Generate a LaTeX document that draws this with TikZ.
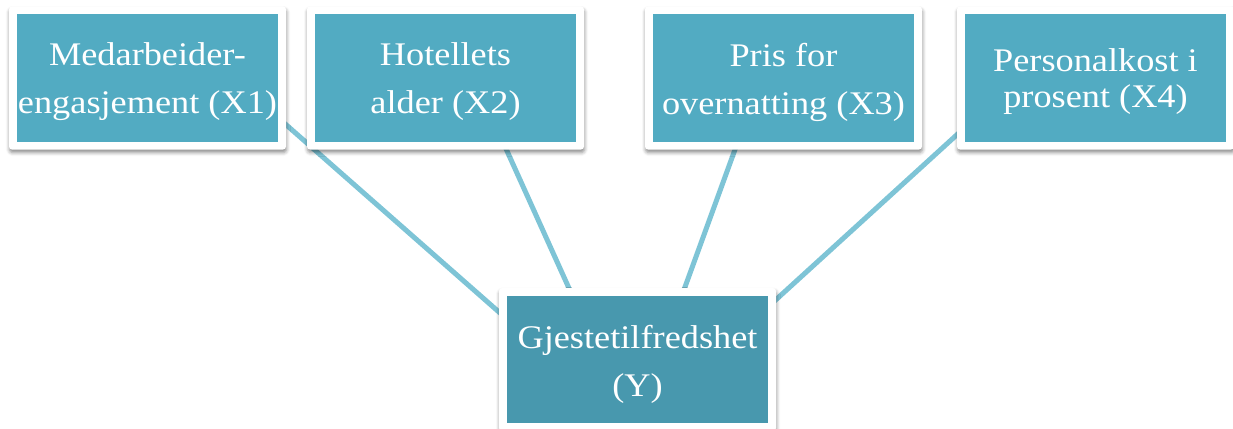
\documentclass[tikz,border=0pt]{standalone}
\usepackage{fontspec}
\setmainfont{Liberation Serif}[FakeStretch=1.1]
\usetikzlibrary{shadows.blur,backgrounds}
\definecolor{boxteal}{RGB}{82,171,194}
\definecolor{hubteal}{RGB}{72,152,174}
\definecolor{linkblue}{RGB}{126,196,214}
\begin{document}
\begin{tikzpicture}[x=1pt,y=-1pt,
  card/.style={fill=white, rounded corners=3pt, minimum width=277pt,
    minimum height=143pt, inner sep=0pt, outer sep=0pt,
    blur shadow={shadow xshift=0.5pt, shadow yshift=-3pt,
      shadow blur radius=3.5pt, shadow opacity=45},
    path picture={\fill[#1, sharp corners]
      ([shift={(8pt,-8pt)}]path picture bounding box.north west) rectangle
      ([shift={(-8pt,8pt)}]path picture bounding box.south east);}},
  cardtext/.style={text=white, align=center, inner sep=0pt,
    font=\fontsize{33}{48}\selectfont, yshift=-4pt},
  link/.style={draw=linkblue, line width=5pt}]
\useasboundingbox (0,0) rectangle (1233,428);

% input factors
\node[card=boxteal] (x1) at (147.5,78) {};
\node[card=boxteal] (x2) at (445.5,78) {};
\node[card=boxteal] (x3) at (783.5,78) {};
\node[card=boxteal] (x4) at (1095.5,78) {};
\node[cardtext] (x1t) at (x1) {Medarbeider-\\engasjement (X1)};
\node[cardtext] (x2t) at (x2) {Hotellets\\alder (X2)};
\node[cardtext] (x3t) at (x3) {Pris for\\overnatting (X3)};
\node[cardtext, font=\fontsize{33}{36}\selectfont] (x4t) at (x4)
  {Personalkost i\\prosent (X4)};

% outcome
\node[card=hubteal] (y) at (637.5,359.5) {};
\node[cardtext, yshift=-0.5pt] (yt) at (y) {Gjestetilfredshet\\(Y)};

% connectors, hidden behind the boxes at both ends
\coordinate (hub) at (633,430);
\coordinate (e1) at (258,100);
\coordinate (e2) at (484,100);
\coordinate (e3) at (753,100);
\coordinate (e4) at (995,100);
\begin{scope}[on background layer]
  \draw[link] (hub) -- (e1);
  \draw[link] (hub) -- (e2);
  \draw[link] (hub) -- (e3);
  \draw[link] (hub) -- (e4);
\end{scope}
\end{tikzpicture}
\end{document}
